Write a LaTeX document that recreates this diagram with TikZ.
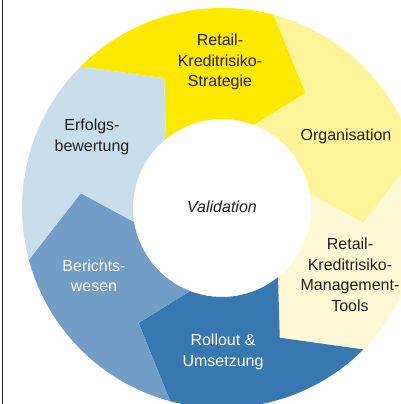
\documentclass[tikz,border=0pt]{standalone}
\usepackage{fontspec}
\setmainfont{Liberation Sans}
\definecolor{cYel}{RGB}{255,233,0}
\definecolor{cOrg}{RGB}{255,243,153}
\definecolor{cTool}{RGB}{255,248,212}
\definecolor{cRoll}{RGB}{56,120,176}
\definecolor{cBer}{RGB}{114,157,199}
\definecolor{cErf}{RGB}{201,222,236}
\definecolor{cText}{RGB}{35,31,32}
\tikzset{
  lbl/.style={align=center, font=\fontsize{16}{20.5}\selectfont, text=cText, inner sep=0pt},
  lblw/.style={lbl, text=white},
}
\newcommand{\segpath}[2]{%
  (#1:200) arc[start angle=#1, end angle=#1-60, radius=200]
  -- (#1-81:142) -- (#1-66:89)
  arc[start angle=#1-66, end angle=#1-6, radius=89]
  -- (#1-21:142) -- cycle}
\begin{document}
\begin{tikzpicture}[x=1pt,y=1pt]
\useasboundingbox (0,0) rectangle (401,404);
\begin{scope}
\clip (0,0) rectangle (401,404);
\begin{scope}[shift={(222,196)}]
\fill[cYel]  \segpath{135}{};
\fill[cOrg]  \segpath{75}{};
\fill[cTool] \segpath{15}{};
\fill[cRoll] \segpath{-45}{};
\fill[cBer]  \segpath{-105}{};
\fill[cErf]  \segpath{195}{};
\end{scope}
\end{scope}
\draw[line width=1.2pt, color={rgb,255:red,40;green,40;blue,40}] (2.5,0) -- (2.5,404);
\node[lbl] (strat) at (220,342) {Retail-\\Kreditrisiko-\\Strategie};
\node[lbl] (org) at (346,268) {Organisation};
\node[lbl] (tools) at (350,129) {Retail-\\Kreditrisiko-\\Management-\\Tools};
\node[lblw] (roll) at (223,52) {Rollout \&\\Umsetzung};
\node[lblw] (ber) at (94,128) {Berichts-\\wesen};
\node[lbl] (erf) at (92,267) {Erfolgs-\\bewertung};
\node[lbl, font=\fontsize{16}{20.5}\selectfont\itshape] (val) at (222,197) {Validation};
\end{tikzpicture}
\end{document}
